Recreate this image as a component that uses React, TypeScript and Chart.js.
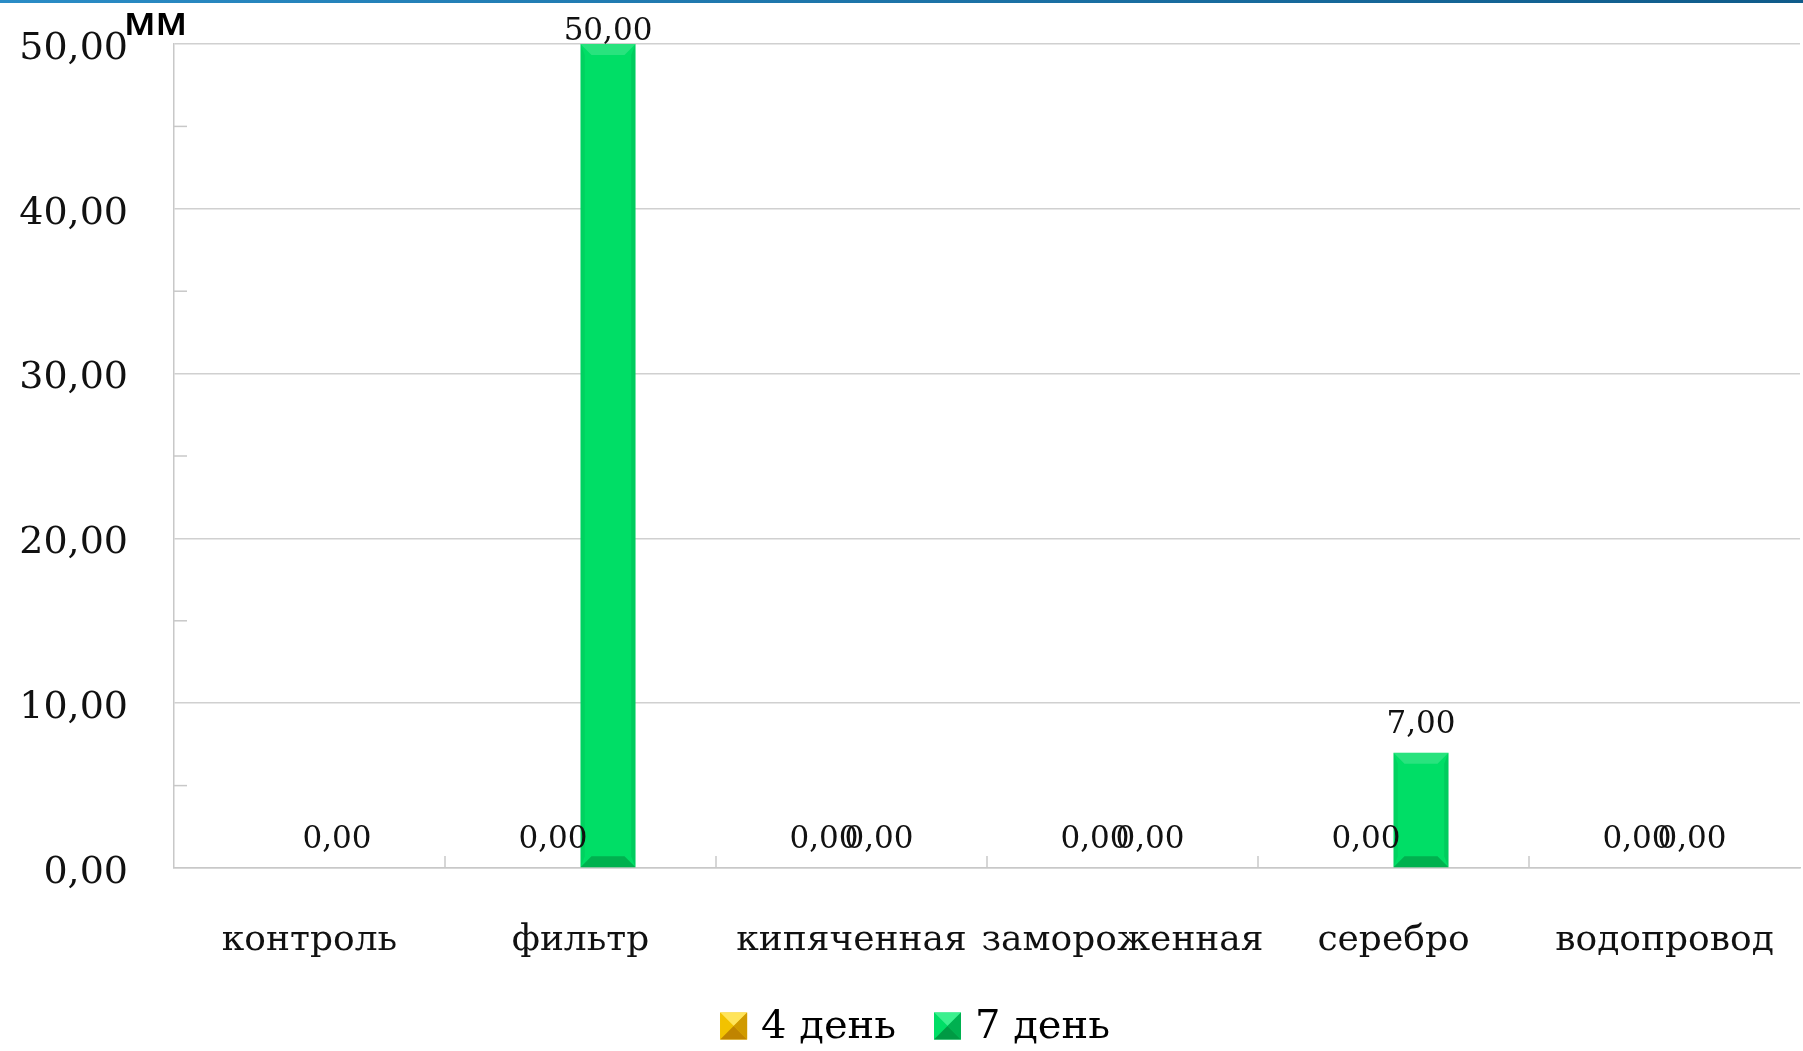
import React, { useEffect, useRef } from "react";
import { Chart, registerables } from "chart.js";

Chart.register(...registerables);

const categories = ["контроль", "фильтр", "кипяченная", "замороженная", "серебро", "водопровод"];
const seriesLabels = ["4 день", "7 день"];
const day4: (number | null)[] = [null, 0, 0, 0, 0, 0];
const day7: (number | null)[] = [0, 50, 0, 0, 7, 0];
const yMin = 0;
const yMax = 50;
const yStep = 10;
const minorTicks = [5, 15, 25, 35, 45];
const unitLabel = "мм";

const seriesColors = ["#F2C200", "#00DE66"];
const seriesLight = ["#FFE45A", "#3CF08E"];
const seriesDark = ["#D09A00", "#00B050"];
const seriesDarker = ["#C08400", "#009A44"];

const SERIF = "'DejaVu Serif', 'Liberation Serif', serif";
const SANS = "'Open Sans', 'Noto Sans', sans-serif";

const fmt = (v: number) => v.toFixed(2).replace(".", ",");

function drawPyramid(ctx: CanvasRenderingContext2D, x: number, y: number, s: number, i: number) {
  const cx = x + s / 2;
  const cy = y + s / 2;
  const tri = (pts: number[][], color: string) => {
    ctx.beginPath();
    ctx.moveTo(pts[0][0], pts[0][1]);
    for (let k = 1; k < pts.length; k++) ctx.lineTo(pts[k][0], pts[k][1]);
    ctx.closePath();
    ctx.fillStyle = color;
    ctx.fill();
  };
  ctx.fillStyle = seriesColors[i];
  ctx.fillRect(x, y, s, s);
  tri([[x, y], [x + s, y], [cx, cy]], seriesLight[i]);
  tri([[x, y], [x, y + s], [cx, cy]], seriesColors[i]);
  tri([[x + s, y], [x + s, y + s], [cx, cy]], seriesDark[i]);
  tri([[x, y + s], [x + s, y + s], [cx, cy]], seriesDarker[i]);
}

const decorPlugin = {
  id: "decor",
  beforeDraw(chart: any) {
    const { ctx, width } = chart;
    ctx.save();
    ctx.fillStyle = "#ffffff";
    ctx.fillRect(0, 0, chart.width, chart.height);
    const g = ctx.createLinearGradient(0, 0, width, 0);
    g.addColorStop(0, "#2a8cc6");
    g.addColorStop(1, "#0f5b8a");
    ctx.fillStyle = g;
    ctx.fillRect(0, 0, width, 3);
    ctx.restore();
  },
  afterDatasetsDraw(chart: any) {
    const { ctx, chartArea } = chart;
    const xs = chart.scales.x;
    const ys = chart.scales.y;
    ctx.save();
    chart.data.datasets.forEach((ds: any, di: number) => {
      const meta = chart.getDatasetMeta(di);
      meta.data.forEach((el: any) => {
        const p = el.getProps(["x", "y", "base", "width"], true);
        const left = p.x - p.width / 2;
        const right = p.x + p.width / 2;
        const top = Math.min(p.y, p.base);
        const bottom = Math.max(p.y, p.base);
        const h = bottom - top;
        if (!(h > 2)) return;
        const b = Math.min(p.width * 0.2, h / 3, 12);
        const poly = (pts: number[][], c: string) => {
          ctx.beginPath();
          ctx.moveTo(pts[0][0], pts[0][1]);
          for (let k = 1; k < pts.length; k++) ctx.lineTo(pts[k][0], pts[k][1]);
          ctx.closePath();
          ctx.fillStyle = c;
          ctx.fill();
        };
        poly([[left, top], [right, top], [right - b, top + b], [left + b, top + b]], "rgba(255,255,255,0.16)");
        poly([[left, bottom], [right, bottom], [right - b, bottom - b], [left + b, bottom - b]], "rgba(0,60,20,0.28)");
        poly([[left, top], [left + b * 0.4, top + b], [left + b * 0.4, bottom - b], [left, bottom]], "rgba(0,0,0,0.05)");
        poly([[right, top], [right - b * 0.4, top + b], [right - b * 0.4, bottom - b], [right, bottom]], "rgba(0,0,0,0.08)");
      });
    });
    ctx.fillStyle = "#111";
    ctx.font = `31px ${SERIF}`;
    ctx.textAlign = "center";
    ctx.textBaseline = "alphabetic";
    chart.data.datasets.forEach((ds: any, di: number) => {
      const meta = chart.getDatasetMeta(di);
      meta.data.forEach((el: any, idx: number) => {
        const v = ds.data[idx];
        if (v === null || v === undefined) return;
        const y = Math.max(el.y - 20, chartArea.top - 4);
        ctx.fillText(fmt(v), el.x, y);
      });
    });
    ctx.strokeStyle = "#c8c8c8";
    ctx.lineWidth = 1.5;
    minorTicks.forEach((v) => {
      const y = ys.getPixelForValue(v);
      ctx.beginPath();
      ctx.moveTo(chartArea.left, y);
      ctx.lineTo(chartArea.left + 13, y);
      ctx.stroke();
    });
    for (let i = 1; i < categories.length; i++) {
      const x = (xs.getPixelForValue(i - 1) + xs.getPixelForValue(i)) / 2;
      ctx.beginPath();
      ctx.moveTo(x, chartArea.bottom);
      ctx.lineTo(x, chartArea.bottom - 12);
      ctx.stroke();
    }
    ctx.restore();
  },
  afterDraw(chart: any) {
    const { ctx } = chart;
    ctx.save();
    ctx.fillStyle = "#000";
    ctx.font = `600 40px ${SANS}`;
    ctx.textAlign = "left";
    ctx.textBaseline = "alphabetic";
    ctx.fillText(unitLabel, 124, 35);
    ctx.font = `40px ${SERIF}`;
    const box = 27;
    const gap = 14;
    const itemGap = 38;
    const widths = chart.data.datasets.map((d: any) => ctx.measureText(d.label).width);
    let total = 0;
    widths.forEach((w: number, i: number) => {
      total += box + gap + w + (i < widths.length - 1 ? itemGap : 0);
    });
    let x = 915 - total / 2;
    const cy = 1026;
    chart.data.datasets.forEach((d: any, i: number) => {
      drawPyramid(ctx, x, cy - box / 2, box, i);
      x += box + gap;
      ctx.fillStyle = "#000";
      ctx.textBaseline = "middle";
      ctx.fillText(d.label, x, cy + 2);
      x += widths[i] + itemGap;
    });
    ctx.restore();
  },
};

export default function App() {
  const ref = useRef<HTMLCanvasElement | null>(null);
  useEffect(() => {
    document.body.style.margin = "0";
    if (!ref.current) return;
    const chart = new Chart(ref.current, {
      type: "bar",
      data: {
        labels: categories,
        datasets: [
          { label: seriesLabels[0], data: day4, backgroundColor: seriesColors[0], barPercentage: 1, categoryPercentage: 0.406 },
          { label: seriesLabels[1], data: day7, backgroundColor: seriesColors[1], barPercentage: 1, categoryPercentage: 0.406 },
        ],
      },
      options: {
        responsive: false,
        animation: false,
        layout: { padding: { top: 44, right: 3, bottom: 73, left: 0 } },
        plugins: {
          legend: { display: false },
          tooltip: { enabled: false },
        },
        scales: {
          x: {
            grid: { display: false },
            border: { display: true, color: "#c8c8c8", width: 1.5 },
            ticks: {
              color: "#111",
              font: { family: SERIF, size: 36 },
              padding: 43,
              maxRotation: 0,
              autoSkip: false,
            },
            afterFit: (s: any) => {
              s.height = 110;
              s.paddingLeft = 0;
              s.paddingRight = 0;
            },
          },
          y: {
            min: yMin,
            max: yMax,
            grid: { color: "#d0d0d0", lineWidth: 1.5, drawTicks: false },
            border: { display: true, color: "#c8c8c8", width: 1.5 },
            ticks: {
              stepSize: yStep,
              color: "#111",
              font: { family: SERIF, size: 38 },
              padding: 46,
              labelOffset: 5,
              callback: (v: any) => fmt(Number(v)),
            },
            afterFit: (s: any) => {
              s.width = 174;
              s.paddingTop = 0;
              s.paddingBottom = 0;
            },
          },
        },
      },
      plugins: [decorPlugin],
    });
    return () => chart.destroy();
  }, []);
  return <canvas ref={ref} width={1803} height={1051} style={{ display: "block" }} />;
}
